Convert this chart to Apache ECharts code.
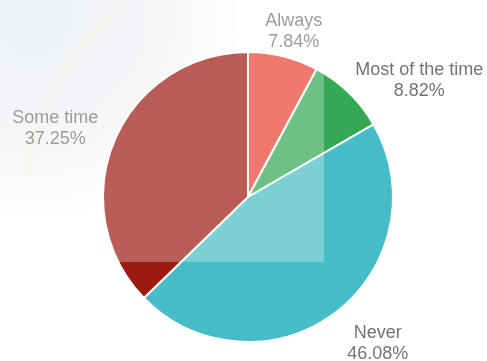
<!DOCTYPE html>
<html>
<head>
<meta charset="utf-8">
<script src="https://cdn.jsdelivr.net/npm/echarts@6/dist/echarts.min.js"></script>
<style>
  html, body { margin: 0; padding: 0; background: #ffffff; }
  #chart { width: 487px; height: 361px; }
</style>
</head>
<body>
<div id="chart"></div>
<script>
const categories = ['Always', 'Most of the time', 'Never', 'Some time'];
const values = [7.84, 8.82, 46.08, 37.25];
const sliceColors = ['#EA4335', '#34A853', '#46BDC6', '#9B1B12'];
const labelNudge = [[5, -3.5], [55, 3], [29, 13.5], [-39, -3]];

const chart = echarts.init(document.getElementById('chart'), null, { renderer: 'canvas' });

const option = {
  animation: false,
  backgroundColor: '#ffffff',
  graphic: [
    {
      type: 'rect',
      silent: true,
      z: 0,
      shape: { x: 0, y: 0, width: 324, height: 262 },
      style: {
        fill: {
          type: 'radial', x: 0.1, y: 0.05, r: 0.8,
          colorStops: [
            { offset: 0, color: '#E6EBF3' },
            { offset: 0.5, color: '#EEF1F5' },
            { offset: 0.85, color: '#FAFAF8' },
            { offset: 1, color: '#FFFFFF' }
          ]
        }
      }
    },
    {
      type: 'arc', silent: true, z: 1,
      shape: { cx: 320, cy: 230, r: 300, startAngle: Math.PI * 1.06, endAngle: Math.PI * 1.27 },
      style: { stroke: 'rgba(246,241,226,0.55)', lineWidth: 10, fill: 'none' }
    },
    {
      type: 'rect',
      silent: true,
      z: 100,
      shape: { x: 0, y: 0, width: 324, height: 262 },
      style: { fill: 'rgba(255,255,255,0.29)' }
    }
  ],
  series: [{
    type: 'pie',
    center: [248, 197],
    radius: 145,
    startAngle: 90,
    clockwise: true,
    avoidLabelOverlap: false,
    itemStyle: { borderColor: '#ffffff', borderWidth: 2 },
    emphasis: { disabled: true },
    label: {
      show: true,
      position: 'outside',
      formatter: '{b}\n{c}%',
      color: '#737373',
      fontFamily: '"Liberation Sans", Arial, sans-serif',
      fontSize: 18,
      lineHeight: 21,
      width: 150,
      distanceToLabelLine: 0
    },
    labelLine: { show: false, length: 22, length2: 0 },
    labelLayout: function (p) {
      const n = labelNudge[p.dataIndex];
      return { align: 'center', verticalAlign: 'middle', dx: n[0], dy: n[1] };
    },
    data: categories.map((c, i) => ({ name: c, value: values[i], itemStyle: { color: sliceColors[i] } }))
  }]
};
chart.setOption(option);
</script>
</body>
</html>
